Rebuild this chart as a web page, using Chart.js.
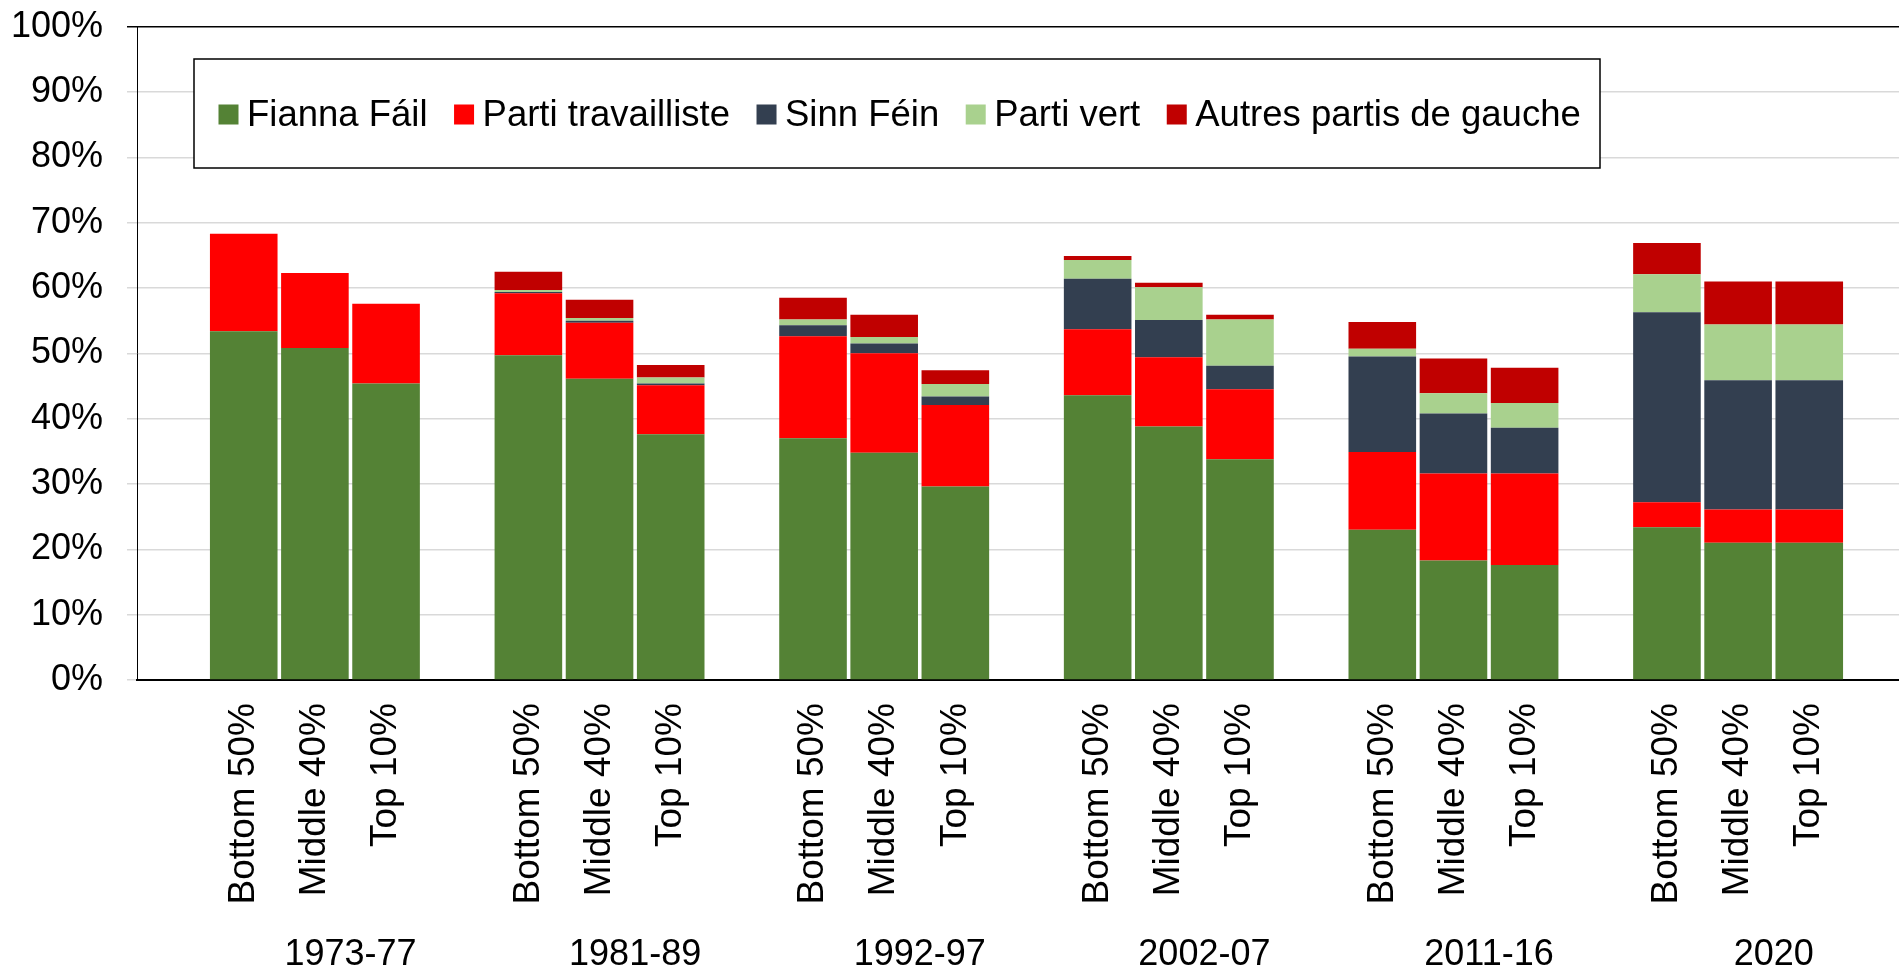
<!DOCTYPE html>
<html>
<head>
<meta charset="utf-8">
<script src="https://cdn.jsdelivr.net/npm/chart.js@4/dist/chart.umd.min.js"></script>
<style>
  html, body { margin: 0; padding: 0; background: #fff; overflow: hidden; }
  #wrap { width: 1920px; height: 969px; position: relative; }
</style>
</head>
<body>
<div id="wrap"><canvas id="chart"></canvas></div>
<script>
// periods (group labels) and income groups inside each period
const periods = ['1973-77', '1981-89', '1992-97', '2002-07', '2011-16', '2020'];
const incomeGroups = ['Bottom 50%', 'Middle 40%', 'Top 10%'];

// vote shares (%), order: period by period, Bottom 50% / Middle 40% / Top 10%
const fiannaFail = [53.4, 50.8, 45.4,  49.7, 46.1, 37.6,  37.0, 34.8, 29.6,  43.6, 38.8, 33.8,  23.0, 18.3, 17.6,  23.4, 21.0, 21.0];
const labour     = [14.9, 11.5, 12.2,   9.5,  8.6,  7.5,  15.6, 15.2, 12.5,  10.1, 10.6, 10.7,  11.9, 13.3, 14.0,   3.8,  5.1,  5.1];
const sinnFein   = [ 0.0,  0.0,  0.0,   0.2,  0.3,  0.3,   1.7,  1.5,  1.3,   7.7,  5.7,  3.6,  14.6,  9.2,  7.0,  29.1, 19.8, 19.8];
const greens     = [ 0.0,  0.0,  0.0,   0.3,  0.4,  0.9,   0.9,  1.0,  1.9,   2.9,  5.0,  7.1,   1.2,  3.1,  3.8,   5.8,  8.5,  8.5];
const otherLeft  = [ 0.0,  0.0,  0.0,   2.8,  2.8,  1.9,   3.3,  3.4,  2.1,   0.6,  0.7,  0.7,   4.1,  5.3,  5.4,   4.8,  6.6,  6.6];

const yTicks = [0, 10, 20, 30, 40, 50, 60, 70, 80, 90, 100];

// one empty slot before the first bar and one after each period
function toSlots(values) {
  const out = [null];
  periods.forEach(function(p, g) {
    for (let i = 0; i < incomeGroups.length; i++) out.push(values[g * 3 + i]);
    out.push(null);
  });
  return out;
}
const slotLabels = [''];
periods.forEach(function() {
  incomeGroups.forEach(function(l) { slotLabels.push(l); });
  slotLabels.push('');
});

const FONT = '"Liberation Sans", Arial, sans-serif';

const series = [
  { label: 'Fianna Fáil', data: fiannaFail, color: '#548235' },
  { label: 'Parti travailliste', data: labour, color: '#ff0000' },
  { label: 'Sinn Féin', data: sinnFein, color: '#333f50' },
  { label: 'Parti vert', data: greens, color: '#a9d18e' },
  { label: 'Autres partis de gauche', data: otherLeft, color: '#c00000' }
];

// legend box drawn inside the plot, with a frame like the original
const boxLegend = {
  id: 'boxLegend',
  afterDatasetsDraw(chart) {
    const ctx = chart.ctx;
    ctx.save();
    ctx.fillStyle = '#fff';
    ctx.fillRect(194, 59, 1406, 109);
    ctx.strokeStyle = '#000';
    ctx.lineWidth = 1.5;
    ctx.strokeRect(194, 59, 1406, 109);
    ctx.font = '36.5px ' + FONT;
    ctx.textBaseline = 'alphabetic';
    ctx.textAlign = 'left';
    let x = 218.5;
    chart.data.datasets.forEach(function(ds) {
      ctx.fillStyle = ds.backgroundColor;
      ctx.fillRect(x, 104.5, 20, 20);
      ctx.fillStyle = '#000';
      ctx.fillText(ds.label, x + 28.5, 126);
      x += 28.5 + ctx.measureText(ds.label).width + 26.5;
    });
    ctx.restore();
  }
};

// period labels under the rotated income-group labels
const periodLabels = {
  id: 'periodLabels',
  afterDraw(chart) {
    const ctx = chart.ctx;
    const xs = chart.scales.x;
    ctx.save();
    ctx.font = '36px ' + FONT;
    ctx.fillStyle = '#000';
    ctx.textAlign = 'center';
    ctx.textBaseline = 'alphabetic';
    periods.forEach(function(p, g) {
      const a = xs.getPixelForValue(1 + g * 4);
      const b = xs.getPixelForValue(4 + g * 4);
      ctx.fillText(p, (a + b) / 2, 965);
    });
    ctx.restore();
  }
};

new Chart(document.getElementById('chart').getContext('2d'), {
  type: 'bar',
  data: {
    labels: slotLabels,
    datasets: series.map(function(s) {
      return {
        label: s.label,
        data: toSlots(s.data),
        backgroundColor: s.color,
        borderWidth: 0,
        categoryPercentage: 1.0,
        barPercentage: 0.95
      };
    })
  },
  options: {
    responsive: true,
    maintainAspectRatio: false,
    animation: false,
    layout: { padding: { top: 26.7, left: 12, right: 4, bottom: 0 } },
    plugins: {
      legend: { display: false },
      tooltip: { enabled: false }
    },
    scales: {
      x: {
        stacked: true,
        grid: { display: false, drawTicks: false },
        border: { color: '#000', width: 2 },
        ticks: {
          autoSkip: false,
          minRotation: 90,
          maxRotation: 90,
          padding: 23,
          color: '#000',
          font: { family: FONT, size: 37 }
        },
        afterFit: function(scale) {
          scale.height = 289;
          scale.paddingLeft = 0;
          scale.paddingRight = 0;
        }
      },
      y: {
        stacked: true,
        min: 0,
        max: 100,
        afterBuildTicks: function(scale) {
          scale.ticks = yTicks.map(function(v) { return { value: v }; });
        },
        afterFit: function(scale) {
          scale.width = 125;
          scale.paddingTop = 0;
          scale.paddingBottom = 0;
        },
        grid: {
          color: function(c) { return c.tick && c.tick.value === 100 ? '#000' : '#d9d9d9'; },
          lineWidth: 1.5,
          tickLength: 10
        },
        border: { color: '#000', width: 1 },
        ticks: {
          padding: 24,
          color: '#000',
          font: { family: FONT, size: 36 },
          callback: function(v) { return v + '%'; }
        }
      }
    }
  },
  plugins: [boxLegend, periodLabels]
});
</script>
</body>
</html>
